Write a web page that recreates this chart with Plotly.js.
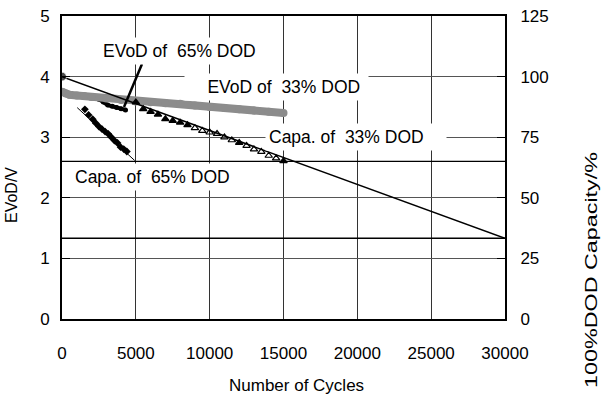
<!DOCTYPE html>
<html>
<head>
<meta charset="utf-8">
<script src="https://cdn.plot.ly/plotly-3.0.1.min.js"></script>
<style>
  html, body { margin: 0; padding: 0; background: #fff; }
  #chart { width: 612px; height: 401px; }
</style>
</head>
<body>
<div id="chart"></div>
<script>
// End-of-voltage-on-discharge (left axis, V) for the 33% DOD cycling test
const evod33Cycles = [0, 250, 500, 1000, 1500, 2000, 3000, 4000, 5000, 6000, 7000, 8000, 9000, 10000, 11000, 12000, 13000, 14000, 15000];
const evod33Volts  = [3.75, 3.72, 3.70, 3.69, 3.68, 3.665, 3.64, 3.615, 3.59, 3.575, 3.56, 3.55, 3.525, 3.50, 3.48, 3.46, 3.44, 3.42, 3.40];

// End-of-voltage-on-discharge for the 65% DOD cycling test
const evod65Cycles = [0, 500, 1000, 1500, 2000, 2500, 2800, 3100, 3400, 3700, 4000, 4300];
const evod65Volts  = [3.73, 3.69, 3.68, 3.665, 3.65, 3.625, 3.58, 3.53, 3.51, 3.49, 3.47, 3.45];

// 100% DOD capacity checks (right axis, %) during the 33% DOD test
const capa33Cycles = [5000, 5500, 6000, 6500, 7000, 7500, 8000, 8500, 9000, 9500, 10000, 10500, 11000, 11500, 12000, 12500, 13000, 13500, 14000, 14500, 15000];
const capa33Pct    = [89.4, 86.6, 85.5, 84.4, 82.5, 81.8, 81.1, 80.0, 78.8, 77.7, 77.0, 76.4, 75.0, 73.8, 72.7, 71.5, 70.0, 69.0, 67.4, 66.3, 65.2];

// 100% DOD capacity checks during the 65% DOD test
const capa65Cycles = [1550, 1800, 2080, 2290, 2500, 2710, 2920, 3130, 3340, 3550, 3760, 3970, 4180, 4390];
const capa65Pct    = [86.5, 84.2, 82.4, 80.8, 79.4, 78.3, 77.3, 76.4, 75.0, 73.6, 72.6, 70.9, 70.1, 69.1];

// Linear capacity trends
const trend33Cycles = [0, 30000];
const trend33Pct    = [100, 33.3];
const trend65Cycles = [1030, 4920];
const trend65Pct    = [87.2, 65.4];

// End-of-life capacity limits
const limitSpan = [0, 30000];
const limit65   = [65, 65];
const limit33   = [33.3, 33.3];

const xTicks  = [0, 5000, 10000, 15000, 20000, 25000, 30000];
const yTicks  = [0, 1, 2, 3, 4, 5];
const y2Ticks = [0, 25, 50, 75, 100, 125];

const FONT = 'Arial, "Liberation Sans", sans-serif';

// plot box in pixels (used to place labels in paper units)
const W = 612, H = 401;
const L = 62, R = 505, T = 16, B = 319;
const px = x => (x - L) / (R - L);
const py = y => (B - y) / (B - T);

// open/filled triangle pattern of the 33% DOD capacity checks
const triSymbols = capa33Cycles.map((c, i) =>
  (i < 8 || i === 14 || i === 20) ? 'triangle-up' : 'triangle-up-open');

const traces = [
  // 65% DOD voltage first so the grey 33% band sits on top of it
  { x: evod65Cycles, y: evod65Volts, yaxis: 'y', mode: 'lines+markers',
    line: { color: '#000', width: 4 },
    marker: { color: '#000', size: 5 }, hoverinfo: 'skip' },
  { x: evod33Cycles, y: evod33Volts, yaxis: 'y', mode: 'lines+markers',
    line: { color: '#8c8c8c', width: 8 },
    marker: { color: '#8c8c8c', size: 8 }, hoverinfo: 'skip' },
  { x: limitSpan, y: limit65, yaxis: 'y2', mode: 'lines',
    line: { color: '#000', width: 1.3 }, hoverinfo: 'skip' },
  { x: limitSpan, y: limit33, yaxis: 'y2', mode: 'lines',
    line: { color: '#000', width: 1.6 }, hoverinfo: 'skip' },
  { x: trend33Cycles, y: trend33Pct, yaxis: 'y2', mode: 'lines+markers',
    line: { color: '#000', width: 1.5 },
    marker: { color: '#000', size: [9, 0] }, hoverinfo: 'skip' },
  { x: trend65Cycles, y: trend65Pct, yaxis: 'y2', mode: 'lines',
    line: { color: '#000', width: 1 }, hoverinfo: 'skip' },
  { x: capa33Cycles, y: capa33Pct, yaxis: 'y2', mode: 'markers',
    marker: { color: '#000', size: 6.5, symbol: triSymbols, line: { color: '#000', width: 1.2 } },
    hoverinfo: 'skip' },
  { x: capa65Cycles, y: capa65Pct, yaxis: 'y2', mode: 'markers',
    marker: { color: '#000', size: 6, symbol: 'diamond' }, hoverinfo: 'skip' }
];

const labelFont = { family: FONT, size: 17.5, color: '#000' };
const NB = '\u00a0';
const label = (text, left, cy) => ({
  text, xref: 'paper', yref: 'paper', x: px(left), y: py(cy),
  xanchor: 'left', yanchor: 'middle', showarrow: false,
  bgcolor: '#fff', borderpad: 3, font: labelFont
});

const layout = {
  width: W, height: H,
  margin: { l: L, r: W - R, t: T, b: H - B, pad: 0 },
  paper_bgcolor: '#fff', plot_bgcolor: '#fff',
  showlegend: false,
  font: { family: FONT, size: 17, color: '#000' },
  xaxis: {
    range: [0, 30000], tickvals: xTicks, ticktext: xTicks.map(String),
    showgrid: true, gridcolor: '#333', gridwidth: 1,
    showline: true, linecolor: '#000', linewidth: 2, mirror: true,
    zeroline: false, ticks: '', ticklabelstandoff: 18,
    tickfont: { family: FONT, size: 17, color: '#000' }
  },
  yaxis: {
    range: [0, 5], tickvals: yTicks,
    showgrid: true, gridcolor: '#555', gridwidth: 1,
    showline: true, linecolor: '#000', linewidth: 2, mirror: true,
    zeroline: false, ticks: 'inside', ticklen: 8, tickcolor: '#000', ticklabelstandoff: 7,
    tickfont: { family: FONT, size: 17, color: '#000' }
  },
  yaxis2: {
    range: [0, 125], tickvals: y2Ticks, overlaying: 'y', side: 'right',
    showgrid: false, showline: true, linecolor: '#000', linewidth: 2,
    zeroline: false, ticks: 'inside', ticklen: 8, tickcolor: '#000', ticklabelstandoff: 10,
    tickfont: { family: FONT, size: 17, color: '#000' }
  },
  shapes: [
    // leader from the 65% DOD voltage label to its curve
    { type: 'line', xref: 'paper', yref: 'paper',
      x0: px(142), y0: py(64), x1: px(124), y1: py(107),
      line: { color: '#000', width: 2.5 } }
  ],
  annotations: [
    label('EVoD of' + NB + ' 65% DOD', 99, 51),
    label(NB.repeat(4) + 'EVoD of' + NB + ' 33% DOD' + NB, 184, 87),
    label('Capa. of' + NB + ' 33% DOD' + NB.repeat(4), 265, 137),
    label('Capa. of' + NB + ' 65% DOD', 71, 177),
    { text: 'Number of Cycles', xref: 'paper', yref: 'paper', x: px(296), y: py(386),
      xanchor: 'center', yanchor: 'middle', showarrow: false,
      font: { family: FONT, size: 17, color: '#000' } },
    { text: 'EVoD/V', xref: 'paper', yref: 'paper', x: px(12), y: py(195),
      xanchor: 'center', yanchor: 'middle', textangle: -90, showarrow: false,
      font: { family: FONT, size: 16, color: '#000' } },
    { text: '100%DOD Capacity/%', xref: 'paper', yref: 'paper', x: px(591), y: py(270),
      xanchor: 'center', yanchor: 'middle', textangle: -90, showarrow: false,
      font: { family: FONT, size: 17, color: '#000' } }
  ]
};

Plotly.newPlot('chart', traces, layout, { staticPlot: true, displayModeBar: false }).then(gd => {
  // the capacity axis caption is set in a wide, stretched face
  const texts = gd.querySelectorAll('.annotation-text');
  const cap = texts[texts.length - 1];
  if (cap) {
    cap.setAttribute('textLength', '236');
    cap.setAttribute('lengthAdjust', 'spacingAndGlyphs');
  }
});
</script>
</body>
</html>
